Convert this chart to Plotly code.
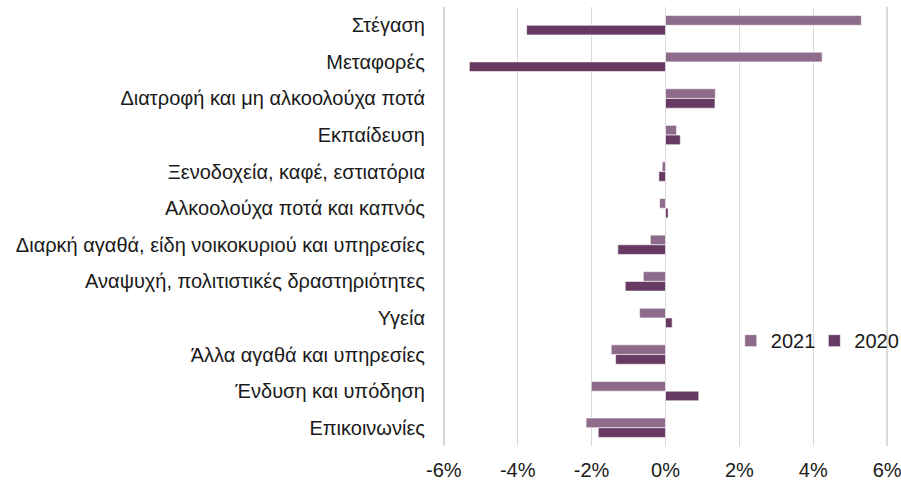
import plotly.graph_objects as go

categories = [
    "Στέγαση",
    "Μεταφορές",
    "Διατροφή και μη αλκοολούχα ποτά",
    "Εκπαίδευση",
    "Ξενοδοχεία, καφέ, εστιατόρια",
    "Αλκοολούχα ποτά και καπνός",
    "Διαρκή αγαθά, είδη νοικοκυριού και υπηρεσίες",
    "Αναψυχή, πολιτιστικές δραστηριότητες",
    "Υγεία",
    "Άλλα αγαθά και υπηρεσίες",
    "Ένδυση και υπόδηση",
    "Επικοινωνίες",
]
values_2021 = [5.30, 4.24, 1.35, 0.30, -0.09, -0.16, -0.41, -0.60, -0.70, -1.47, -2.01, -2.15]
values_2020 = [-3.76, -5.31, 1.34, 0.40, -0.18, 0.07, -1.29, -1.09, 0.18, -1.35, 0.90, -1.82]
tick_vals = [-6, -4, -2, 0, 2, 4, 6]
tick_text = ["-6%", "-4%", "-2%", "0%", "2%", "4%", "6%"]

COLOR_2021 = "#8D6B8A"
COLOR_2020 = "#663A63"

fig = go.Figure()
fig.add_trace(go.Bar(name="2021", y=categories, x=values_2021, orientation="h",
                     legend="legend",
                     marker=dict(color=COLOR_2021, line=dict(color="white", width=0.6))))
fig.add_trace(go.Bar(name="2020", y=categories, x=values_2020, orientation="h",
                     legend="legend2",
                     marker=dict(color=COLOR_2020, line=dict(color="white", width=0.6))))

legend_style = dict(orientation="h", y=0.24, xanchor="left", yanchor="middle",
                    font=dict(size=20), bgcolor="rgba(255,255,255,0)", itemwidth=30)

fig.update_layout(
    width=901,
    height=484,
    showlegend=True,
    hovermode=False,
    barmode="group",
    bargap=0.47,
    bargroupgap=0,
    plot_bgcolor="white",
    paper_bgcolor="white",
    font=dict(family="Liberation Sans", color="#1a1a1a"),
    margin=dict(l=442, r=12, t=7, b=38, autoexpand=False),
    legend=dict(x=0.646, **legend_style),
    legend2=dict(x=0.833, **legend_style),
    # range padded a hair so the -6% and 6% gridlines get drawn
    xaxis=dict(range=[-6.05, 6.05], tickvals=tick_vals, ticktext=tick_text,
               showgrid=True, gridcolor="#D9D9D9", gridwidth=1.5,
               zeroline=True, zerolinecolor="#D9D9D9", zerolinewidth=1.5,
               tickfont=dict(size=20), ticks="", ticklabelstandoff=10,
               ticklabeloverflow="allow", automargin=False),
    yaxis=dict(autorange="reversed", tickfont=dict(size=20), ticks="",
               ticklabelstandoff=16, showgrid=False, zeroline=False, automargin=False),
)

# drop the default body margin so the figure fills the window exactly
fig.write_html(
    "out.html",
    config={"displayModeBar": False, "staticPlot": True},
    post_script="document.body.style.margin='0';document.body.style.overflow='hidden';",
)
